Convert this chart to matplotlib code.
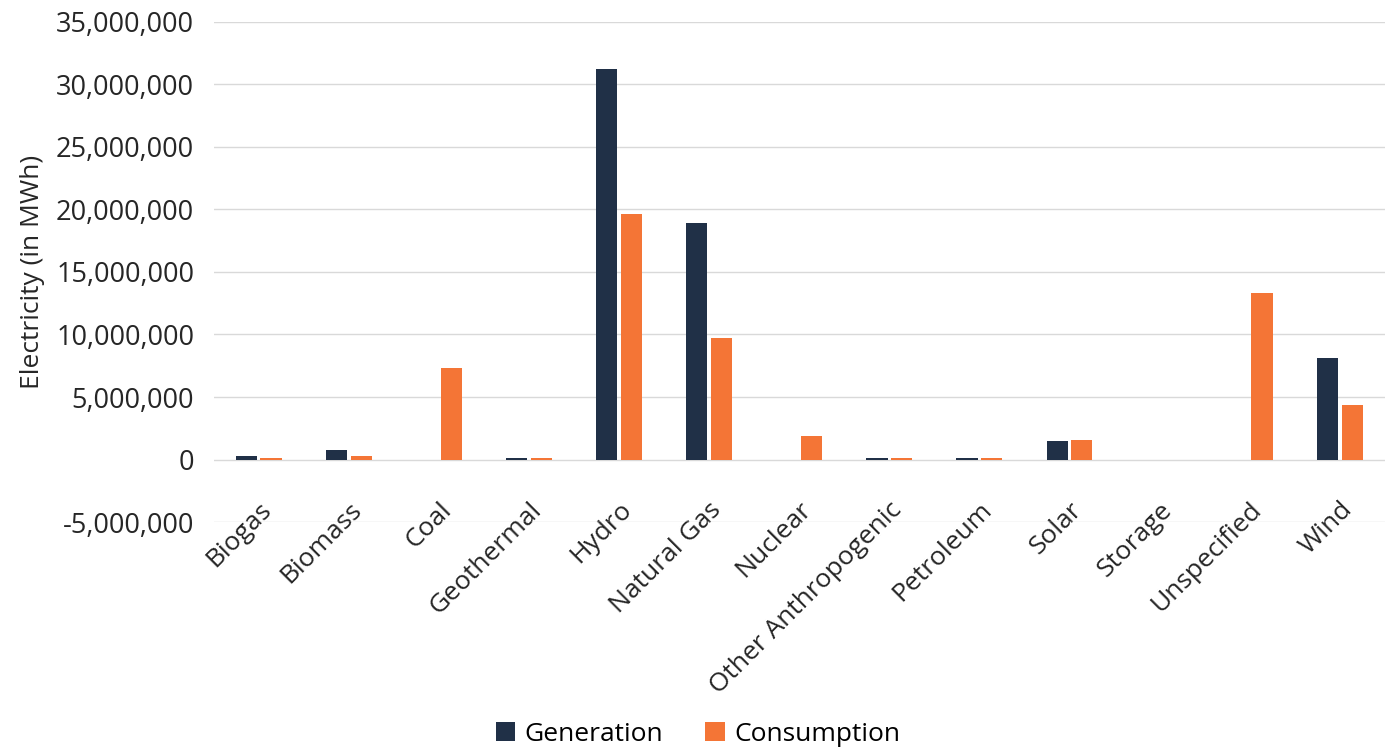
import numpy as np
import matplotlib.pyplot as plt
from matplotlib.ticker import FuncFormatter

categories = ["Biogas", "Biomass", "Coal", "Geothermal", "Hydro", "Natural Gas",
              "Nuclear", "Other Anthropogenic", "Petroleum", "Solar", "Storage",
              "Unspecified", "Wind"]
generation = [300000, 800000, 0, 150000, 31250000, 18900000,
              0, 150000, 150000, 1500000, 0, 0, 8150000]
consumption = [150000, 300000, 7350000, 150000, 19600000, 9750000,
               1900000, 150000, 150000, 1600000, 0, 13350000, 4400000]

plt.rcParams['font.family'] = ['Open Sans', 'DejaVu Sans']

fig = plt.figure(figsize=(13.96, 7.48), dpi=100)
ax = fig.add_axes([0.153, 0.302, 0.839, 0.669])

x = np.arange(len(categories))
w = 0.235
ax.bar(x - w / 2 - 0.02, generation, w, color="#203047", label="Generation", zorder=3)
ax.bar(x + w / 2 + 0.02, consumption, w, color="#F47536", label="Consumption", zorder=3)

ax.set_ylim(-5000000, 35000000)
ax.set_yticks(np.arange(-5000000, 35000001, 5000000))
ax.yaxis.set_major_formatter(FuncFormatter(lambda v, p: f"{int(v):,}"))
ax.set_xlim(-0.5, len(categories) - 0.5)
ax.set_xticks(x)
ax.set_xticklabels(categories, rotation=45, ha="right", rotation_mode="anchor")
ax.tick_params(axis="y", length=0, labelsize=19.5, colors="#262626", pad=14)
ax.tick_params(axis="x", length=0, labelsize=19, colors="#262626", pad=-18)
ax.grid(axis="y", color="#d9d9d9", lw=1, zorder=0)
for s in ax.spines.values():
    s.set_visible(False)
ax.set_ylabel("Electricity (in MWh)", fontsize=19, color="#262626", labelpad=8)

fig.legend(loc="lower center", bbox_to_anchor=(0.5, -0.03), ncol=2, frameon=False,
           fontsize=19, handlelength=0.75, handleheight=0.75, columnspacing=1.6,
           handletextpad=0.35)

fig.savefig("out.png", dpi=100)
